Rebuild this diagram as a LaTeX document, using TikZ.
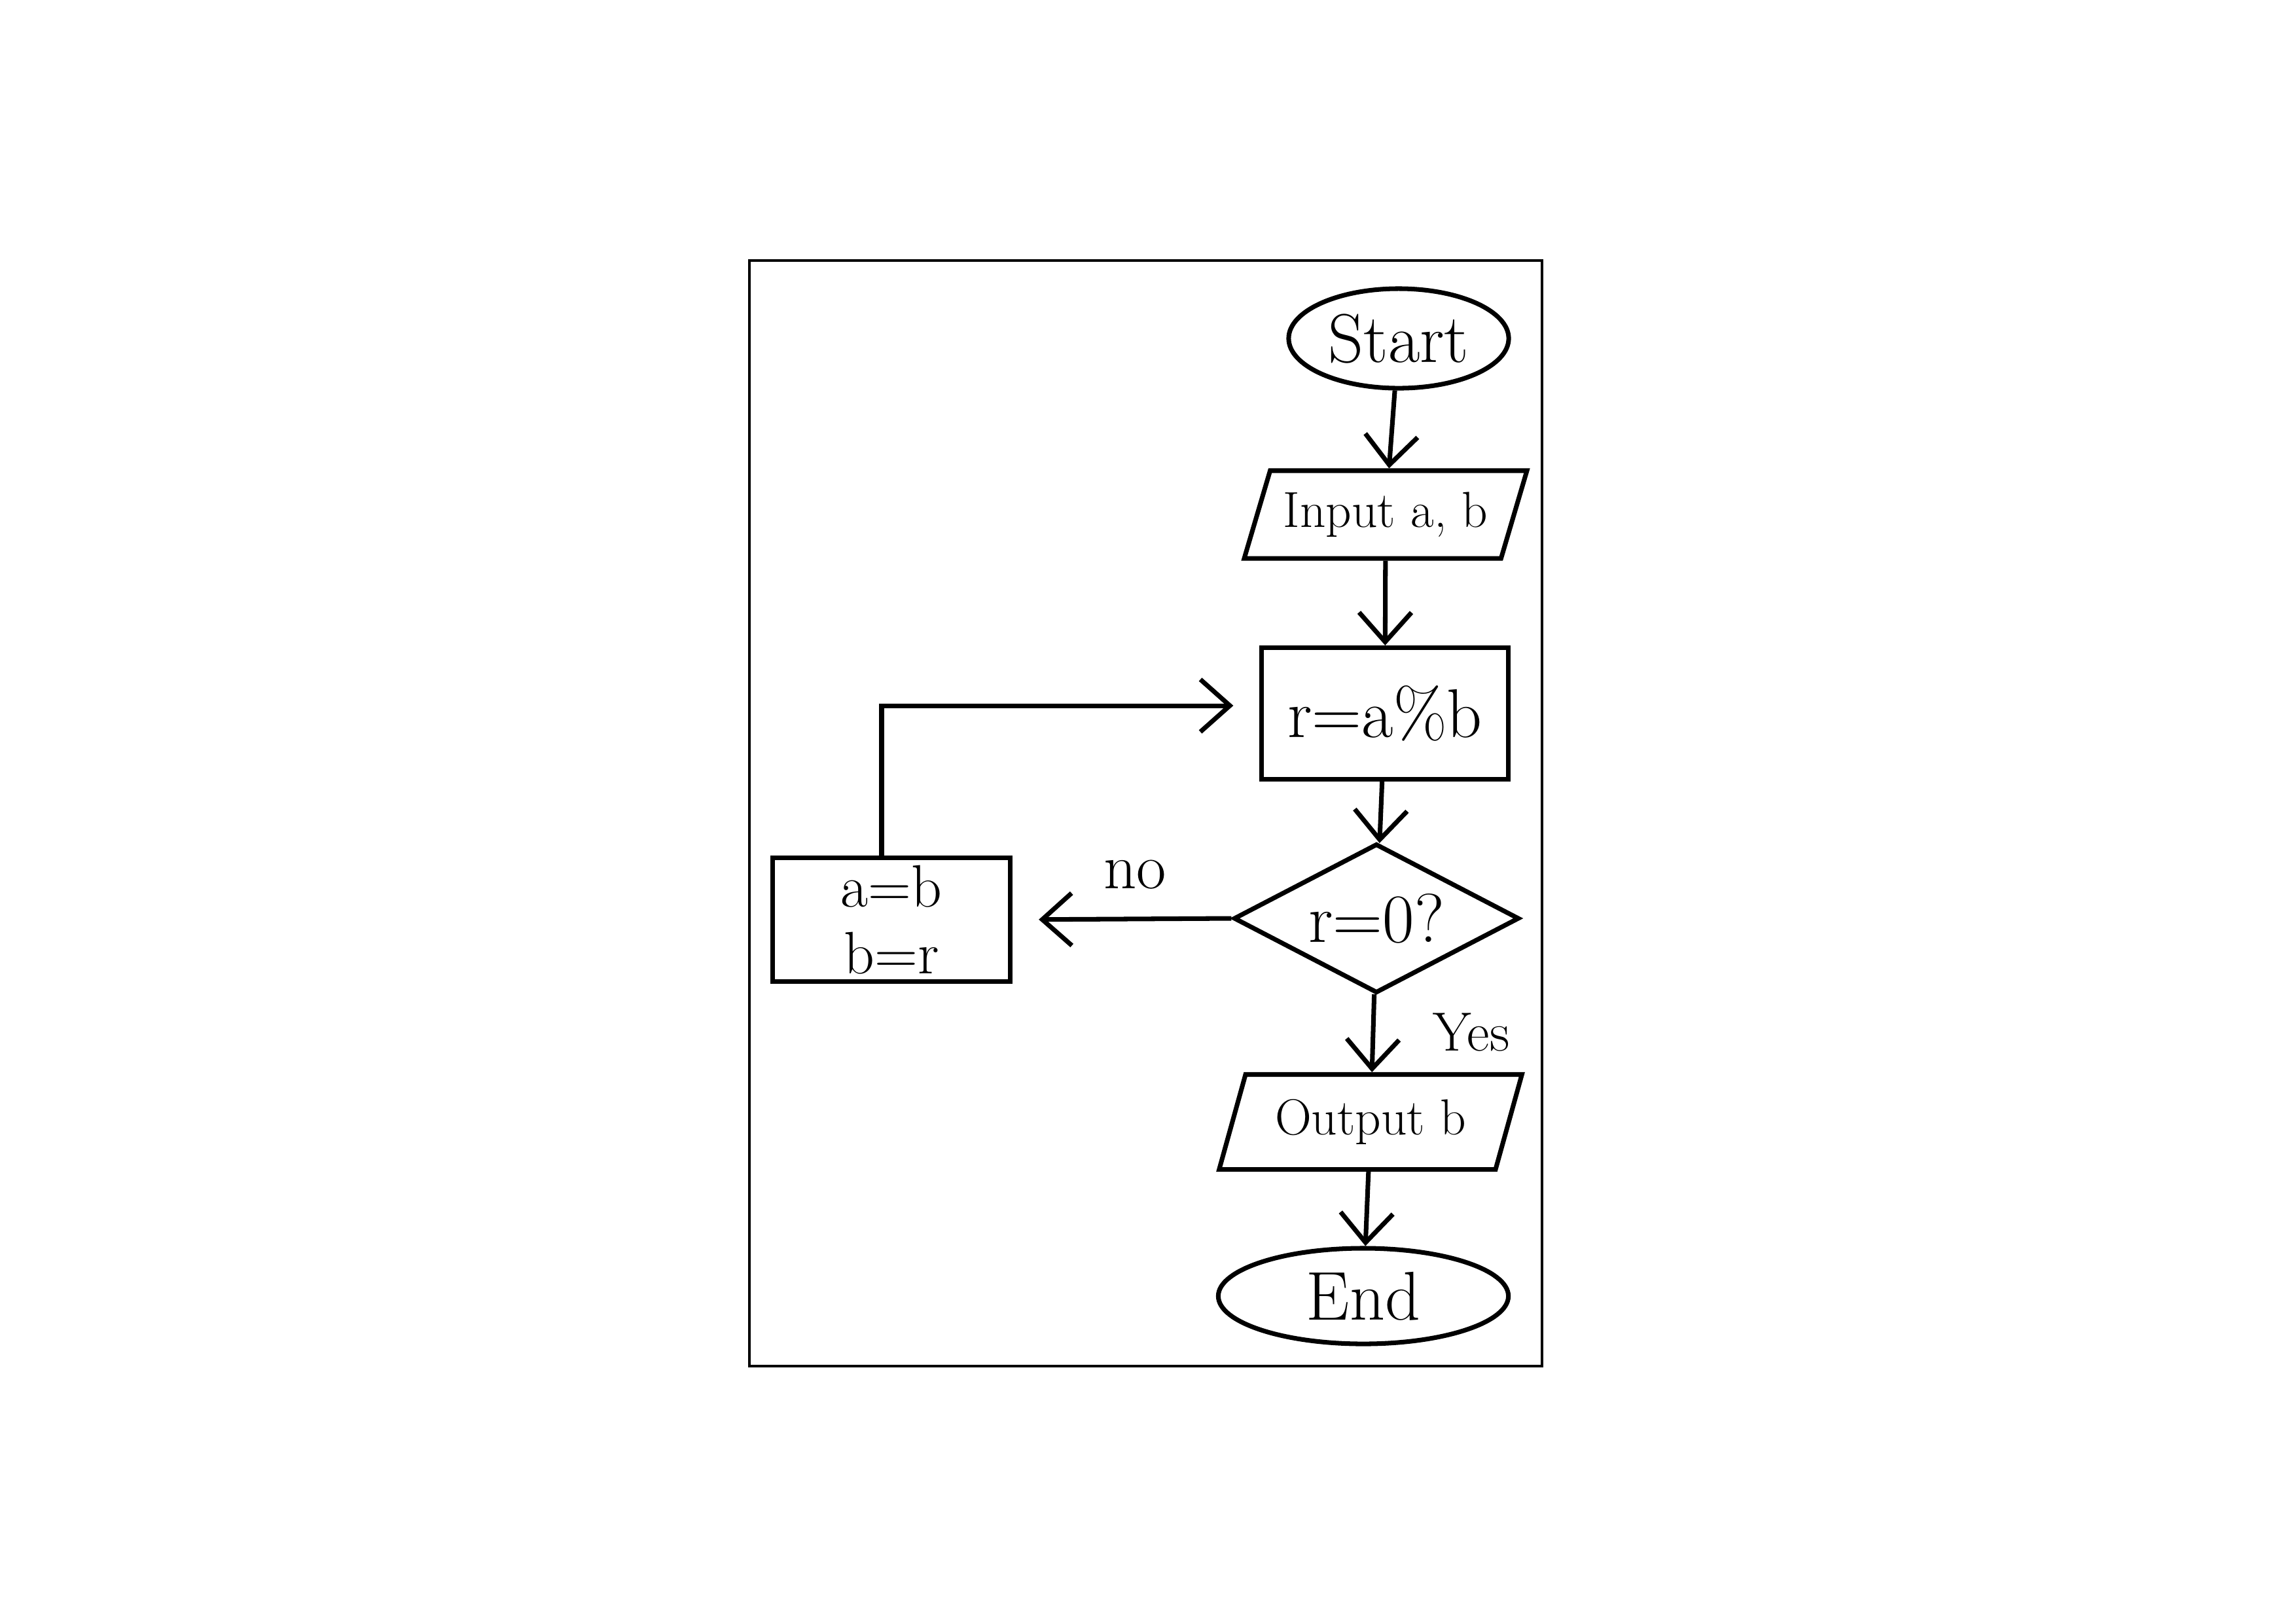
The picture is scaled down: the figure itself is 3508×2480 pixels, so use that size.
\documentclass[tikz,border=0pt]{standalone}
\usetikzlibrary{shapes.geometric,arrows.meta}
\begin{document}
\begin{tikzpicture}[x=0.01cm,y=-0.01cm,
  every node/.style={font=\fontsize{30}{36}\selectfont},
  shp/.style={draw,line width=2pt,inner sep=0pt},
  term/.style={shp,ellipse},
  io/.style={shp,trapezium,trapezium stretches=true},
  proc/.style={shp,rectangle},
  dec/.style={shp,diamond,aspect=1.9},
  arr/.style={line width=2pt,-{Straight Barb[length=0.45cm,width=0.8cm,line width=2pt]}},
  lbl/.style={font=\fontsize{28}{34}\selectfont},
  small/.style={font=\fontsize{22}{26}\selectfont}]
\useasboundingbox (0,0) rectangle (3508,2480);
\draw[line width=1.3pt] (1145,398) rectangle (2356,2087);

\node[term,minimum width=3.36cm,minimum height=1.52cm] (start) at (2137,517) {Start};
\node[io,small,trapezium left angle=63,trapezium right angle=117,minimum width=4.32cm,minimum height=1.34cm] (input) at (2117,786) {Input a, b};
\node[proc,minimum width=3.76cm,minimum height=2.01cm] (rbox) at (2116,1090) {r=a\%b};
\node[dec,minimum width=4.36cm,minimum height=2.28cm] (dia) at (2103,1403) {r=0?};
\node[proc,minimum width=3.63cm,minimum height=1.88cm,align=center,font=\fontsize{26}{29}\selectfont] (ab) at (1362,1405) {a=b\\b=r};
\node[io,small,trapezium left angle=66,trapezium right angle=114,minimum width=4.65cm,minimum height=1.45cm] (out) at (2094,1714) {Output b};
\node[term,minimum width=4.43cm,minimum height=1.46cm] (end) at (2083,1980) {End};

\node[lbl] (no) at (1734,1336) {no};
\node[lbl,font=\fontsize{24}{28}\selectfont] (yes) at (2248,1577) {Yes};

\draw[arr] (start) -- (input);
\draw[arr] (input) -- (rbox);
\draw[arr] (rbox) -- (dia);
\draw[arr] (dia) -- (out);
\draw[arr] (out) -- (end);
\draw[arr] (dia.west) -- (ab.east) [shorten >=0.4cm];
\draw[arr,shorten >=0.4cm] ([xshift=-0.15cm]ab.north) |- ([yshift=0.12cm]rbox.west);
\end{tikzpicture}
\end{document}
